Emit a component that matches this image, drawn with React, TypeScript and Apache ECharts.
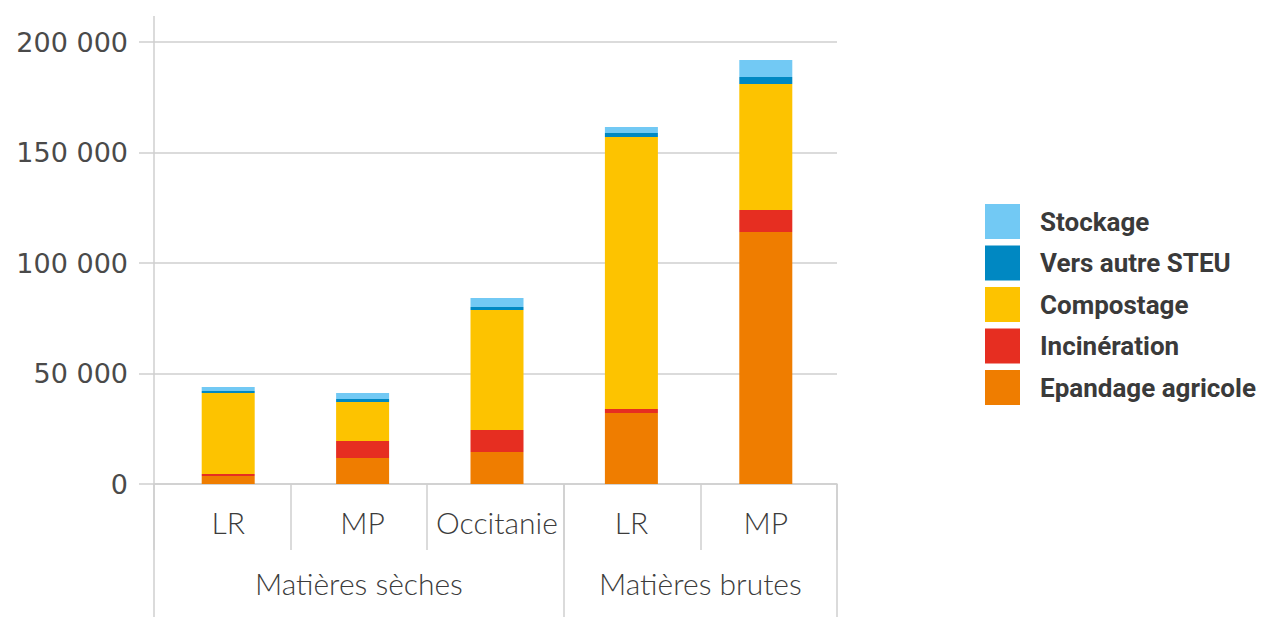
import React, { useEffect, useRef } from "react";
import * as echarts from "echarts";

const categories = ["LR", "MP", "Occitanie", "LR", "MP"];
const groupLabels = ["Matières sèches", "Matières brutes"];
const groupSizes = [3, 2];

const epandage = [3600, 11800, 14500, 32100, 114000];
const incineration = [900, 7700, 9900, 1800, 10000];
const compostage = [36700, 17600, 54300, 123100, 57000];
const versAutre = [900, 1400, 1400, 1800, 3200];
const stockage = [1800, 2700, 4100, 2700, 7700];

const yTicks = [0, 50000, 100000, 150000, 200000];

const seriesDefs = [
  { name: "Epandage agricole", data: epandage, color: "#EF7D00" },
  { name: "Incinération", data: incineration, color: "#E62E21" },
  { name: "Compostage", data: compostage, color: "#FDC300" },
  { name: "Vers autre STEU", data: versAutre, color: "#0088C2" },
  { name: "Stockage", data: stockage, color: "#72C9F4" },
];

const legendOrder = ["Stockage", "Vers autre STEU", "Compostage", "Incinération", "Epandage agricole"];

const axisGrey = "#cfcfcf";
const labelFont = "Lato, 'Open Sans', sans-serif";

export default function App() {
  const ref = useRef<HTMLDivElement>(null);
  useEffect(() => {
    if (!ref.current) return;
    const chart = echarts.init(ref.current, null, { renderer: "svg" });
    const total = categories.length;
    const boundaries: number[] = [0];
    const groupCenters: number[] = [];
    let acc = 0;
    groupSizes.forEach((s) => {
      groupCenters.push(acc + s / 2);
      acc += s;
      boundaries.push(acc);
    });
    const textBase = { fontFamily: labelFont, fontWeight: 300, fontSize: 30, color: "#3c3c3c" };
    chart.setOption({
      animation: false,
      grid: [
        { left: 161, right: 430, top: 42, bottom: 135, containLabel: false },
        { left: 154, right: 426, top: 42, bottom: 135, containLabel: false },
      ],
      legend: {
        orient: "vertical",
        left: 985,
        top: 204,
        padding: 0,
        itemWidth: 35,
        itemHeight: 35,
        itemGap: 6.5,
        icon: "rect",
        data: legendOrder,
        textStyle: {
          fontFamily: "Roboto, 'DejaVu Sans', sans-serif",
          fontWeight: "bold",
          fontSize: 26,
          color: "#3a3a3a",
          padding: [0, 0, 0, 15],
        },
      },
      xAxis: [
        {
          type: "category",
          gridIndex: 0,
          data: categories,
          position: "bottom",
          axisLine: { show: false },
          axisTick: { show: false },
          axisLabel: { interval: 0, margin: 23, ...textBase },
        },
        {
          type: "category",
          gridIndex: 1,
          data: categories,
          position: "bottom",
          axisLine: { show: true, lineStyle: { color: axisGrey, width: 1.5 } },
          axisTick: { show: true, interval: 0, length: 66, lineStyle: { color: axisGrey, width: 1.5 } },
          axisLabel: { show: false },
        },
        {
          type: "value",
          gridIndex: 1,
          min: 0,
          max: total,
          position: "bottom",
          offset: 0,
          axisLine: { show: false },
          splitLine: { show: false },
          axisTick: {
            show: true,
            customValues: boundaries,
            length: 133,
            lineStyle: { color: axisGrey, width: 1.5 },
          },
          axisLabel: {
            customValues: groupCenters,
            formatter: (v: number) => {
              const i = groupCenters.findIndex((c) => Math.abs(c - v) < 1e-6);
              return i >= 0 ? groupLabels[i] : "";
            },
            margin: 84,
            ...textBase,
          },
        },
        {
          type: "value",
          gridIndex: 1,
          min: 0,
          max: total,
          position: "top",
          axisLine: { show: false },
          splitLine: { show: false },
          axisLabel: { show: false },
          axisTick: {
            show: true,
            customValues: [0],
            length: 26,
            lineStyle: { color: axisGrey, width: 1.5 },
          },
        },
      ],
      yAxis: [
        {
          type: "value",
          gridIndex: 0,
          min: 0,
          max: 200000,
          interval: 50000,
          show: false,
        },
        {
          type: "value",
          gridIndex: 1,
          min: 0,
          max: 200000,
          interval: 50000,
          axisLine: { show: true, lineStyle: { color: axisGrey, width: 1.5 } },
          axisTick: { show: true, length: 15, lineStyle: { color: axisGrey, width: 1.5 } },
          splitLine: { show: true, lineStyle: { color: axisGrey, width: 1.5 } },
          axisLabel: {
            margin: 26,
            fontFamily: "'DejaVu Sans', sans-serif",
            fontWeight: "normal",
            fontSize: 27,
            color: "#4a4a4a",
            customValues: yTicks,
            formatter: (v: number) => String(v).replace(/\B(?=(\d{3})+(?!\d))/g, " "),
          },
        },
      ],
      series: seriesDefs.map((s) => ({
        name: s.name,
        type: "bar",
        stack: "total",
        xAxisIndex: 0,
        yAxisIndex: 0,
        barWidth: 53,
        data: s.data,
        itemStyle: { color: s.color },
      })),
    });
    return () => chart.dispose();
  }, []);
  return <div ref={ref} style={{ width: 1263, height: 619, position: "absolute", left: 0, top: 0, background: "#fff" }} />;
}
